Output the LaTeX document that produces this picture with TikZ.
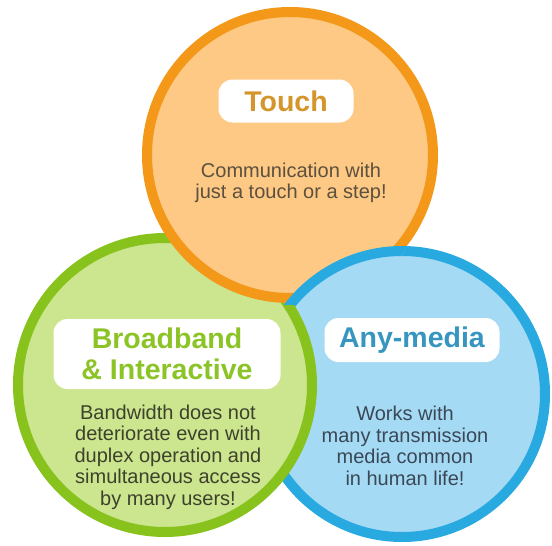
\documentclass[tikz,border=0pt]{standalone}
\usepackage{fontspec}
\setmainfont{Liberation Sans}
\definecolor{ofill}{RGB}{253,201,132}
\definecolor{oring}{RGB}{243,152,25}
\definecolor{gfill}{RGB}{204,229,143}
\definecolor{gring}{RGB}{135,195,28}
\definecolor{bfill}{RGB}{165,218,245}
\definecolor{bring}{RGB}{40,170,225}
\definecolor{ttitle}{RGB}{212,150,42}
\definecolor{gtitle}{RGB}{140,196,40}
\definecolor{btitle}{RGB}{55,150,192}
\definecolor{tbody}{RGB}{92,80,62}
\definecolor{gbody}{RGB}{62,66,44}
\definecolor{bbody}{RGB}{58,72,86}
\tikzset{
  ringcirc/.style={line width=10pt},
  tbox/.style={fill=white, rounded corners=14pt, inner sep=0pt, align=center,
    font=\fontsize{28.5}{31}\selectfont\bfseries},
  bodytext/.style={align=center, inner sep=0pt, font=\fontsize{20}{21.5}\selectfont}
}
\begin{document}
\begin{tikzpicture}[x=1pt,y=-1pt]
\useasboundingbox (0,0) rectangle (552,546);
\coordinate (oc) at (290,155);
\coordinate (gc) at (165,385);
\coordinate (bc) at (402,394);
% blue, green, orange
\filldraw[ringcirc, fill=bfill, draw=bring] (bc) circle (143pt);
\filldraw[ringcirc, fill=gfill, draw=gring] (gc) circle (147pt);
\filldraw[ringcirc, fill=ofill, draw=oring] (oc) circle (143pt);
% blue lies over orange
\begin{scope}
  \clip (oc) circle (150pt);
  \filldraw[ringcirc, fill=bfill, draw=bring] (bc) circle (143pt);
\end{scope}
% texts
\node[tbox, minimum width=135pt, minimum height=43pt, text=ttitle] (touchTitle) at (286,101) {Touch};
\node[bodytext, text=tbody] (touchBody) at (291,183) {Communication with\\just a touch or a step!};
\node[tbox, minimum width=227pt, minimum height=70pt, text=gtitle] (bbTitle) at (167,354) {Broadband\\\& Interactive};
\node[bodytext, text=gbody] (bbBody) at (168,457) {Bandwidth does not\\deteriorate even with\\duplex operation and\\simultaneous access\\by many users!};
\node[tbox, minimum width=175pt, minimum height=44pt, text=btitle] (amTitle) at (412,340) {Any-media};
\node[bodytext, text=bbody] (amBody) at (405,446) {Works with\\many transmission\\media common\\in human life!};
\end{tikzpicture}
\end{document}
